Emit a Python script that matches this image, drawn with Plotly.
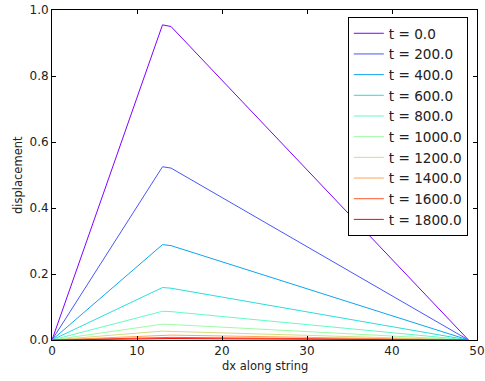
import plotly.graph_objects as go

# Data
times = [0.0, 200.0, 400.0, 600.0, 800.0, 1000.0, 1200.0, 1400.0, 1600.0, 1800.0]
x_pts = [0, 13, 14, 49]
peak13 = [0.955, 0.525, 0.289, 0.159, 0.087, 0.048, 0.027, 0.015, 0.008, 0.0045]
peak14 = [0.950, 0.521, 0.286, 0.157, 0.086, 0.047, 0.026, 0.0148, 0.0079, 0.0044]
colors = ["#8000ff", "#4757fb", "#0ea4f0", "#2adddd", "#62fbc4",
          "#9cfba4", "#d4dd80", "#ffa457", "#ff572c", "#ff0000"]
x_title = "dx along string"
y_title = "displacement"

fig = go.Figure()
for i, t in enumerate(times):
    fig.add_trace(go.Scatter(
        x=x_pts, y=[0.0, peak13[i], peak14[i], 0.0],
        mode="lines", line=dict(color=colors[i], width=1),
        name="t = %.1f" % t, legendgroup="g%d" % i,
    ))

font = "DejaVu Sans"
axis_common = dict(
    showgrid=False, zeroline=False, showline=True, linecolor="black", linewidth=1,
    mirror="ticks", ticks="inside", ticklen=4, tickcolor="black", automargin=False,
    tickfont=dict(family=font, size=12, color="#222"),
)
fig.update_layout(
    width=485, height=381,
    margin=dict(l=52, r=8, t=10, b=41),
    paper_bgcolor="white", plot_bgcolor="white",
    font=dict(family=font, color="#222"),
    xaxis=dict(range=[0, 50], tickvals=[0, 10, 20, 30, 40, 50], **axis_common),
    yaxis=dict(range=[0, 1], tickvals=[0, 0.2, 0.4, 0.6, 0.8, 1.0], tickformat=".1f",
               **axis_common),
    legend=dict(x=0.696, y=0.979, xanchor="left", yanchor="top",
                bordercolor="black", borderwidth=1, bgcolor="white",
                font=dict(family=font, size=13.6, color="#222"),
                tracegroupgap=0, traceorder="normal"),
    showlegend=True,
    annotations=[
        dict(text=x_title, xref="paper", yref="paper", x=0.5, y=-26 / 330,
             xanchor="center", yanchor="middle", showarrow=False,
             font=dict(family=font, size=11.5, color="#222")),
        dict(text=y_title, xref="paper", yref="paper", x=-34 / 425, y=0.5,
             xanchor="center", yanchor="middle", showarrow=False, textangle=-90,
             font=dict(family=font, size=11.5, color="#222")),
    ],
)
fig.write_html("out.html", config={"displayModeBar": False},
               post_script="document.body.style.margin='0';")
